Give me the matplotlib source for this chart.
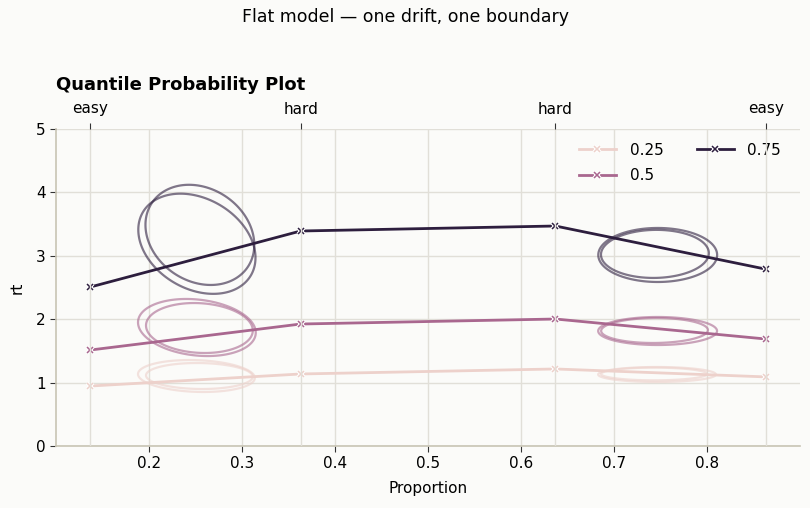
import numpy as np
import matplotlib
matplotlib.use("Agg")
import matplotlib.pyplot as plt
from matplotlib.legend_handler import HandlerTuple
import seaborn as sns

# ---- data ----
proportions = [0.137, 0.363, 0.637, 0.863]
difficulty_labels = ["easy", "hard", "hard", "easy"]
quantiles = [0.25, 0.5, 0.75]
rt_q25 = [0.946, 1.136, 1.215, 1.09]
rt_q50 = [1.514, 1.924, 2.003, 1.688]
rt_q75 = [2.508, 3.391, 3.47, 2.79]

# predicted ellipses: quantile, centre x, centre y, half-width x, half-height y, correlation
ell_quantile = [0.75, 0.75, 0.5, 0.5, 0.25, 0.25, 0.75, 0.75, 0.5, 0.5, 0.25, 0.25]
ell_cx = [0.2547, 0.2515, 0.2515, 0.2542, 0.2510, 0.2542, 0.7470, 0.7440, 0.7469, 0.7436, 0.7463, 0.7431]
ell_cy = [3.33, 3.19, 1.869, 1.861, 1.104, 1.104, 3.013, 3.03, 1.814, 1.822, 1.128, 1.136]
ell_sx = [0.0585, 0.063, 0.0633, 0.0574, 0.0628, 0.0574, 0.0639, 0.058, 0.0639, 0.0574, 0.0633, 0.057]
ell_sy = [0.79, 0.79, 0.45, 0.394, 0.252, 0.205, 0.426, 0.379, 0.221, 0.197, 0.118, 0.10]
ell_rho = [-0.2, -0.28, -0.18, -0.1, -0.12, -0.05, 0.0, 0.03, 0.0, 0.03, 0.0, 0.0]

bg = "#fbfbf9"
grid_c = "#e1dfd8"
spine_c = "#c8c4b4"

plt.rcParams["font.family"] = ["DejaVu Sans"]
fig = plt.figure(figsize=(8.1, 5.08), dpi=100, facecolor=bg)
ax = fig.add_axes([56 / 810, 1 - 446 / 508, 744 / 810, 317 / 508])
ax.set_facecolor(bg)

cmap = sns.cubehelix_palette(as_cmap=True)
qmin, qmax = min(quantiles), max(quantiles)
colors = {q: cmap((q - qmin) / (qmax - qmin)) for q in quantiles}

series = {0.25: rt_q25, 0.5: rt_q50, 0.75: rt_q75}

# ellipses
t = np.linspace(0, 2 * np.pi, 240, endpoint=False)
for q, cx, cy, sx, sy, r in zip(ell_quantile, ell_cx, ell_cy, ell_sx, ell_sy, ell_rho):
    xs = cx + sx * np.cos(t)
    ys = cy + sy * (r * np.cos(t) + np.sqrt(1 - r * r) * np.sin(t))
    ax.fill(xs, ys, fill=False, edgecolor=colors[q], alpha=0.6, lw=1.6, zorder=2)

handles = []
for q in quantiles:
    ln, = ax.plot(proportions, series[q], color=colors[q], lw=2, marker="x",
                  markersize=5, markeredgecolor="w", markeredgewidth=2.6, zorder=3)
    mk, = ax.plot(proportions, series[q], ls="none", marker="x", markersize=4.5,
                  markeredgecolor=colors[q], markeredgewidth=1.1, zorder=4)
    handles.append((ln, mk))

ax.set_xlim(0.1, 0.9)
ax.set_ylim(0, 5)
ax.set_xticks([0.2, 0.3, 0.4, 0.5, 0.6, 0.7, 0.8])
ax.set_xticklabels(["0.2", "0.3", "0.4", "0.5", "0.6", "0.7", "0.8"])
ax.set_yticks([0, 1, 2, 3, 4, 5])
ax.grid(True, color=grid_c, lw=1, zorder=0)
ax.set_axisbelow(True)
for s in ["top", "right"]:
    ax.spines[s].set_visible(False)
for s in ["left", "bottom"]:
    ax.spines[s].set_color(spine_c)
    ax.spines[s].set_linewidth(1.2)
ax.tick_params(labelsize=11, length=4, color="#333333")
ax.set_xlabel("Proportion", fontsize=11, labelpad=7)
ax.set_ylabel("rt", fontsize=11, labelpad=8)

ax2 = ax.twiny()
ax2.set_xlim(ax.get_xlim())
ax2.set_xticks(proportions)
ax2.set_xticklabels(difficulty_labels)
ax2.tick_params(labelsize=11, length=4, color="#333333", pad=5)
ax2.grid(True, axis="x", color=grid_c, lw=1)
ax2.set_axisbelow(True)
for s in ax2.spines.values():
    s.set_visible(False)

ax.set_title("Quantile Probability Plot", loc="left", fontsize=13,
             fontweight="bold", pad=28)
leg = ax.legend(handles, [str(q) for q in quantiles],
                handler_map={tuple: HandlerTuple(ndivide=1)},
                loc="upper right", ncol=2, frameon=False, fontsize=11,
                bbox_to_anchor=(0.993, 1.0), columnspacing=2.2,
                handlelength=2.4, handletextpad=0.9, labelspacing=0.7)

fig.suptitle("Flat model \u2014 one drift, one boundary", fontsize=12.5, y=0.985)

fig.savefig("out.png", dpi=100, facecolor=bg)
